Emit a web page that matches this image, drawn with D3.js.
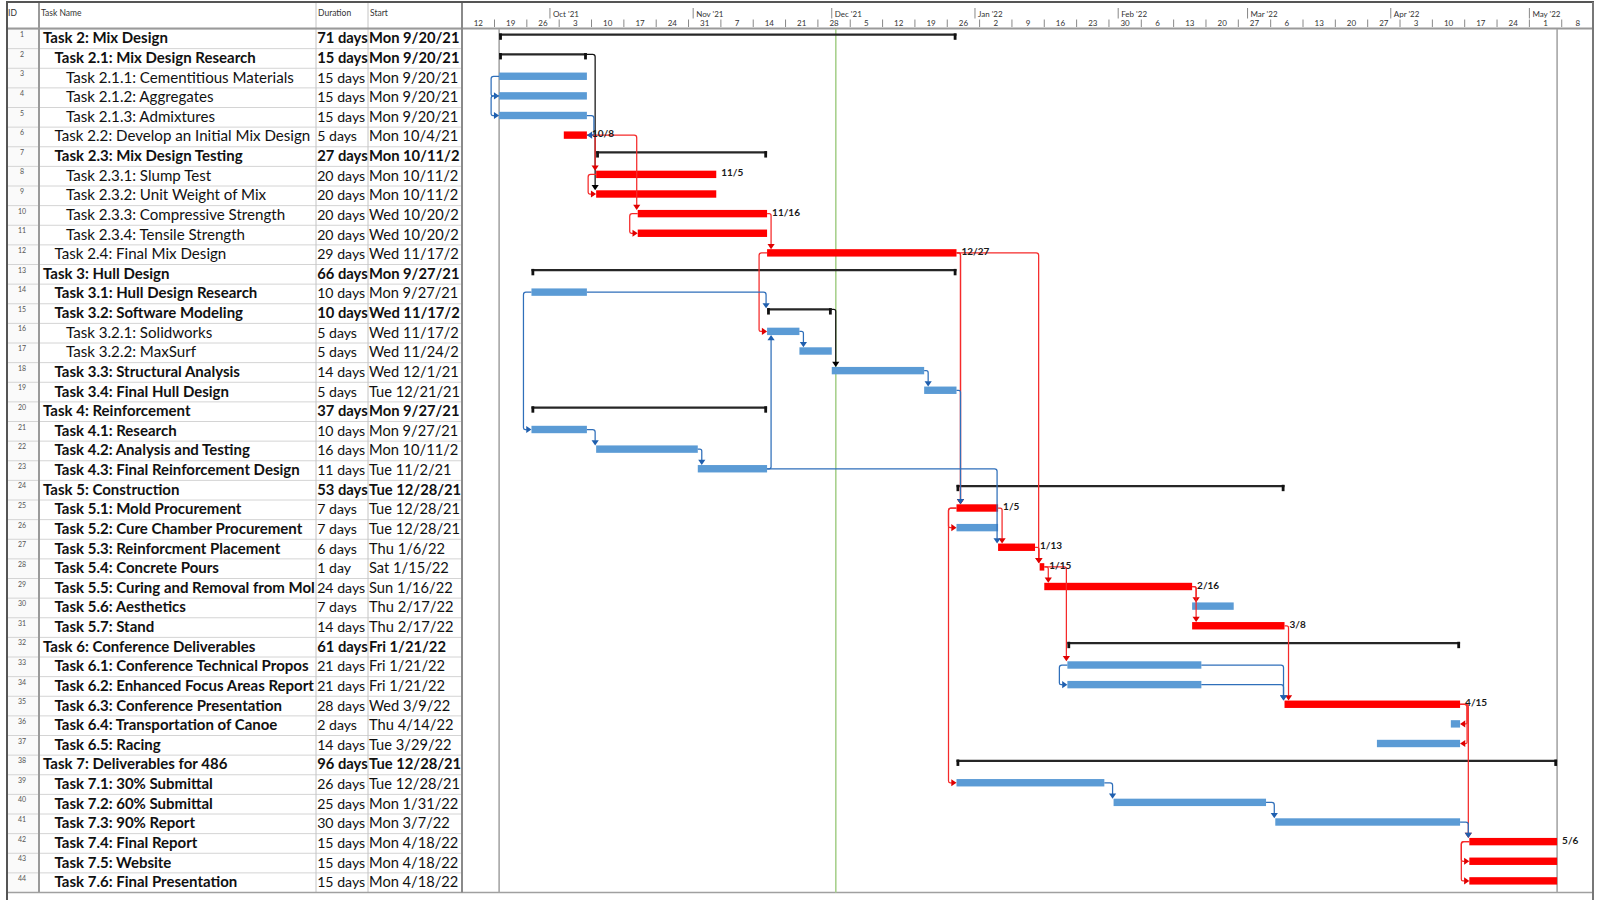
<!DOCTYPE html>
<html><head><meta charset="utf-8">
<script src="https://cdn.jsdelivr.net/npm/d3@7"></script>
<style>
body{margin:0;background:#fff;}
svg{display:block;font-family:Lato,'Open Sans',sans-serif;}
</style></head><body>
<svg id="chart" width="1600" height="900"></svg>
<script>
// ---------------- DATA ----------------
const taskNames = [
 "Task 2: Mix Design","Task 2.1: Mix Design Research","Task 2.1.1: Cementitious Materials","Task 2.1.2: Aggregates","Task 2.1.3: Admixtures",
 "Task 2.2: Develop an Initial Mix Design","Task 2.3: Mix Design Testing","Task 2.3.1: Slump Test","Task 2.3.2: Unit Weight of Mix","Task 2.3.3: Compressive Strength",
 "Task 2.3.4: Tensile Strength","Task 2.4: Final Mix Design","Task 3: Hull Design","Task 3.1: Hull Design Research","Task 3.2: Software Modeling",
 "Task 3.2.1: Solidworks","Task 3.2.2: MaxSurf","Task 3.3: Structural Analysis","Task 3.4: Final Hull Design","Task 4: Reinforcement",
 "Task 4.1: Research","Task 4.2: Analysis and Testing","Task 4.3: Final Reinforcement Design","Task 5: Construction","Task 5.1: Mold Procurement",
 "Task 5.2: Cure Chamber Procurement","Task 5.3: Reinforcment Placement","Task 5.4: Concrete Pours","Task 5.5: Curing and Removal from Mold","Task 5.6: Aesthetics",
 "Task 5.7: Stand","Task 6: Conference Deliverables","Task 6.1: Conference Technical Proposal","Task 6.2: Enhanced Focus Areas Report","Task 6.3: Conference Presentation",
 "Task 6.4: Transportation of Canoe","Task 6.5: Racing","Task 7: Deliverables for 486","Task 7.1: 30% Submittal","Task 7.2: 60% Submittal",
 "Task 7.3: 90% Report","Task 7.4: Final Report","Task 7.5: Website","Task 7.6: Final Presentation"];
const taskLevels = [0,1,2,2,2, 1,1,2,2,2, 2,1,0,1,1, 2,2,1,1,0, 1,1,1,0,1, 1,1,1,1,1, 1,0,1,1,1, 1,1,0,1,1, 1,1,1,1];
const durations = ["71 days","15 days","15 days","15 days","15 days","5 days","27 days","20 days","20 days","20 days",
 "20 days","29 days","66 days","10 days","10 days","5 days","5 days","14 days","5 days","37 days",
 "10 days","16 days","11 days","53 days","7 days","7 days","6 days","1 day","24 days","7 days",
 "14 days","61 days","21 days","21 days","28 days","2 days","14 days","96 days","26 days","25 days",
 "30 days","15 days","15 days","15 days"];
const startTexts = ["Mon 9/20/21","Mon 9/20/21","Mon 9/20/21","Mon 9/20/21","Mon 9/20/21","Mon 10/4/21","Mon 10/11/21","Mon 10/11/21","Mon 10/11/21","Wed 10/20/21",
 "Wed 10/20/21","Wed 11/17/21","Mon 9/27/21","Mon 9/27/21","Wed 11/17/21","Wed 11/17/21","Wed 11/24/21","Wed 12/1/21","Tue 12/21/21","Mon 9/27/21",
 "Mon 9/27/21","Mon 10/11/21","Tue 11/2/21","Tue 12/28/21","Tue 12/28/21","Tue 12/28/21","Thu 1/6/22","Sat 1/15/22","Sun 1/16/22","Thu 2/17/22",
 "Thu 2/17/22","Fri 1/21/22","Fri 1/21/22","Fri 1/21/22","Wed 3/9/22","Thu 4/14/22","Tue 3/29/22","Tue 12/28/21","Tue 12/28/21","Mon 1/31/22",
 "Mon 3/7/22","Mon 4/18/22","Mon 4/18/22","Mon 4/18/22"];
const barStarts = ["2021-09-20","2021-09-20","2021-09-20","2021-09-20","2021-09-20","2021-10-04","2021-10-11","2021-10-11","2021-10-11","2021-10-20",
 "2021-10-20","2021-11-17","2021-09-27","2021-09-27","2021-11-17","2021-11-17","2021-11-24","2021-12-01","2021-12-21","2021-09-27",
 "2021-09-27","2021-10-11","2021-11-02","2021-12-28","2021-12-28","2021-12-28","2022-01-06","2022-01-15","2022-01-16","2022-02-17",
 "2022-02-17","2022-01-21","2022-01-21","2022-01-21","2022-03-09","2022-04-14","2022-03-29","2021-12-28","2021-12-28","2022-01-31",
 "2022-03-07","2022-04-18","2022-04-18","2022-04-18"];
const barFinishes = ["2021-12-27","2021-10-08","2021-10-08","2021-10-08","2021-10-08","2021-10-08","2021-11-16","2021-11-05","2021-11-05","2021-11-16",
 "2021-11-16","2021-12-27","2021-12-27","2021-10-08","2021-11-30","2021-11-23","2021-11-30","2021-12-20","2021-12-27","2021-11-16",
 "2021-10-08","2021-11-01","2021-11-16","2022-03-08","2022-01-05","2022-01-05","2022-01-13","2022-01-15","2022-02-16","2022-02-25",
 "2022-03-08","2022-04-15","2022-02-18","2022-02-18","2022-04-15","2022-04-15","2022-04-15","2022-05-06","2022-01-28","2022-03-04",
 "2022-04-15","2022-05-06","2022-05-06","2022-05-06"];
// sum = summary, crit = critical task, norm = normal task
const taskKinds = ["sum","sum","norm","norm","norm","crit","sum","crit","crit","crit",
 "crit","crit","sum","norm","sum","norm","norm","norm","norm","sum",
 "norm","norm","norm","sum","crit","norm","crit","crit","crit","norm",
 "crit","sum","norm","norm","crit","norm","norm","sum","norm","norm",
 "norm","crit","crit","crit"];
const nameBold = [1,1,0,0,0,0,1,0,0,0, 0,0,1,1,1,0,0,1,1,1, 1,1,1,1,1,1,1,1,1,1, 1,1,1,1,1,1,1,1,1,1, 1,1,1,1];
const finishLabels = ["","","","","","10/8","","11/5","","11/16",
 "","12/27","","","","","","","","",
 "","","","","1/5","","1/13","1/15","2/16","",
 "3/8","","","","4/15","","","","","",
 "","5/6","",""];
// dependency links (task IDs, 1-based)
const linkFrom = [3,4,8,10,12,14,25,25,33,42,42, 5,35,35, 2,15, 12,6,6,10,12,12,25,27,28,28,29,29,31,35, 14,16,18,19,21,22,23,23,33,34,39,40,41];
const linkTo   = [4,5,9,11,16,21,26,39,34,43,44, 6,36,37, 9,18, 25,8,10,12,28,25,27,28,29,33,30,31,35,42, 15,17,19,25,22,23,16,27,35,35,40,41,42];
const linkType = ["SS","SS","SS","SS","SS","SS","SS","SS","SS","SS","SS","FF","FF","FF","FS","FS",
 "FS","FS","FS","FS","FS","FS","FS","FS","FS","FS","FS","FS","FS","FS",
 "FS","FS","FS","FS","FS","FS","FS","FS","FS","FS","FS","FS","FS"];
const linkKind = ["norm","norm","crit","crit","crit","norm","crit","crit","norm","crit","crit","norm","crit","crit","sum","sum",
 "crit","crit","crit","crit","crit","crit","crit","crit","crit","crit","crit","crit","crit","crit",
 "norm","norm","norm","norm","norm","norm","norm","norm","norm","norm","norm","norm","norm"];
const columnTitles = ["ID","Task Name","Duration","Start"];
const statusDate = "2021-12-01T21:00";

// ---------------- LAYOUT ----------------
const svg = d3.select("#chart");
const W = 1600, H = 900;
const L = 7, R = 1593, TOP = 2, HEAD = 29, ROWH = 19.625;
const colX = [7, 39, 316, 368, 462];
const N = taskNames.length;
const tableBottom = HEAD + N*ROWH;
const parse = d3.timeParse("%Y-%m-%d");
const x = d3.scaleTime().domain([new Date(2021,8,19), new Date(2022,4,1)]).range([494.5, 494.5 + 224*4.62]);
const rowTop = i => HEAD + i*ROWH;
const bStart = i => x(parse(barStarts[i]));
const bEnd = i => x(d3.timeDay.offset(parse(barFinishes[i]), 1));

const defs = svg.append("defs");
defs.append("clipPath").attr("id", "cTime").append("rect").attr("x", colX[4]+1).attr("y", 0).attr("width", R-1-colX[4]-1).attr("height", H);

svg.append("rect").attr("width", W).attr("height", H).attr("fill", "#fff");

// font sizing to match reference text widths
function measure(str, weight, size){
  const t = svg.append("text").attr("font-weight", weight).attr("font-size", size).text(str);
  const w = t.node().getComputedTextLength(); t.remove(); return w;
}
const boldSize = 20*125/measure("Task 2: Mix Design","bold",20);
const regSize = Math.min(20*233/measure("Task 2.1.1: Cementitious Materials","normal",20),
                         20*256/measure("Task 2.2: Develop an Initial Mix Design","normal",20));
const durRegSize = Math.min(regSize, 20*48/measure("15 days","normal",20));
const durBoldSize = Math.min(boldSize, 20*50.5/measure("71 days","bold",20));
const stRegSize = Math.min(regSize, 20*89.5/measure("Mon 9/20/21","normal",20));
const stBoldSize = Math.min(boldSize, 20*90.5/measure("Mon 9/20/21","bold",20));

// cut a text to the characters that fit in the given width (cell overflow)
function fitText(node, maxW){
  let s = node.textContent;
  while (s.length > 1 && node.getComputedTextLength() > maxW){ s = s.slice(0, -1); node.textContent = s; }
}

// ---------------- TABLE ----------------
const tbl = svg.append("g");
tbl.append("rect").attr("x", colX[0]).attr("y", HEAD).attr("width", colX[1]-colX[0]).attr("height", tableBottom-HEAD).attr("fill", "#fafafa");
tbl.selectAll("line.row").data(d3.range(N+1)).join("line")
  .attr("x1", colX[0]).attr("x2", colX[4]).attr("y1", i => rowTop(i)).attr("y2", i => rowTop(i))
  .attr("stroke", "#d4d4d4").attr("stroke-width", 1);
[[colX[1],"#9a9a9a",2],[colX[2],"#c4c4c4",1],[colX[3],"#c4c4c4",1]].forEach(([cx,c,w]) => {
  tbl.append("line").attr("x1", cx).attr("x2", cx).attr("y1", TOP).attr("y2", tableBottom).attr("stroke", c).attr("stroke-width", w);
});
const hx = [8, 41, 318, 370];
columnTitles.forEach((t,i) => tbl.append("text").attr("x", hx[i]).attr("y", 16).attr("font-size", 8.5).attr("fill", "#333").text(t));
tbl.selectAll("text.id").data(d3.range(N)).join("text")
  .attr("x", 22).attr("y", i => rowTop(i)+8).attr("text-anchor", "middle").attr("font-size", 7).attr("fill", "#555")
  .text(i => i+1);
const nameX = i => 43 + taskLevels[i]*11.5;
tbl.append("g").selectAll("text").data(d3.range(N)).join("text")
  .attr("x", nameX).attr("y", i => rowTop(i)+14.3)
  .attr("font-weight", i => nameBold[i] ? "bold" : "normal")
  .attr("font-size", i => nameBold[i] ? boldSize : regSize).attr("fill", "#111")
  .text(i => taskNames[i])
  .each(function(i){ fitText(this, colX[2] - nameX(i)); });
tbl.append("g").selectAll("text").data(d3.range(N)).join("text")
  .attr("x", colX[2]+1.2).attr("y", i => rowTop(i)+14.3)
  .attr("font-weight", i => taskKinds[i]==="sum" ? "bold" : "normal")
  .attr("font-size", i => taskKinds[i]==="sum" ? durBoldSize : durRegSize).attr("fill", "#111")
  .text(i => durations[i]);
tbl.append("g").selectAll("text").data(d3.range(N)).join("text")
  .attr("x", colX[3]+1).attr("y", i => rowTop(i)+14.3)
  .attr("font-weight", i => taskKinds[i]==="sum" ? "bold" : "normal")
  .attr("font-size", i => taskKinds[i]==="sum" ? stBoldSize : stRegSize).attr("fill", "#111")
  .text(i => startTexts[i])
  .each(function(){ fitText(this, colX[4] - 0.5 - (colX[3]+1)); });

// ---------------- TIMESCALE HEADER ----------------
const th = svg.append("g").attr("clip-path", "url(#cTime)");
const d0 = x.invert(colX[4]), d1 = x.invert(R);
const months = d3.timeMonth.range(d3.timeMonth.ceil(d0), d1);
th.selectAll("line.m").data(months).join("line")
  .attr("x1", d => x(d)).attr("x2", d => x(d)).attr("y1", 8).attr("y2", 18.5).attr("stroke", "#888").attr("stroke-width", 1);
th.selectAll("text.m").data(months).join("text")
  .attr("x", d => x(d)+3).attr("y", 16.5).attr("font-size", 8).attr("fill", "#333").text(d3.timeFormat("%b '%y"));
const weeks = d3.timeSunday.range(d3.timeSunday.floor(d0), d1);
th.selectAll("line.w").data(weeks).join("line")
  .attr("x1", d => x(d)).attr("x2", d => x(d)).attr("y1", 19.5).attr("y2", 27).attr("stroke", "#888").attr("stroke-width", 1);
th.selectAll("text.w").data(weeks).join("text")
  .attr("x", d => x(d3.timeHour.offset(d, 84))).attr("y", 26).attr("text-anchor", "middle")
  .attr("font-size", 8).attr("fill", "#333").text(d3.timeFormat("%-d"));

// ---------------- FRAME ----------------
svg.append("line").attr("x1", L).attr("x2", R).attr("y1", HEAD-0.5).attr("y2", HEAD-0.5).attr("stroke", "#9a9a9a").attr("stroke-width", 2);
svg.append("line").attr("x1", L).attr("x2", R).attr("y1", tableBottom).attr("y2", tableBottom).attr("stroke", "#a0a0a0").attr("stroke-width", 1.5);
svg.append("line").attr("x1", colX[4]).attr("x2", colX[4]).attr("y1", TOP).attr("y2", tableBottom).attr("stroke", "#8a8a8a").attr("stroke-width", 2);
svg.append("line").attr("x1", L-1).attr("x2", R+1).attr("y1", TOP).attr("y2", TOP).attr("stroke", "#555").attr("stroke-width", 2);
svg.append("line").attr("x1", L).attr("x2", L).attr("y1", TOP).attr("y2", H).attr("stroke", "#555").attr("stroke-width", 2);
svg.append("line").attr("x1", R).attr("x2", R).attr("y1", TOP).attr("y2", H).attr("stroke", "#777").attr("stroke-width", 2);

// ---------------- GANTT ----------------
const g = svg.append("g").attr("clip-path", "url(#cTime)");
const projStart = x(parse(barStarts[0]));
const projEnd = bEnd(37);
[[projStart,"#a6a6a6"],[projEnd,"#a6a6a6"],[x(new Date(statusDate)),"#a9d18e"]].forEach(([lx,c]) => {
  g.append("line").attr("x1", lx).attr("x2", lx).attr("y1", HEAD).attr("y2", tableBottom).attr("stroke", c).attr("stroke-width", 1.6);
});

const BAR_OFF = 4.3, BAR_H = 7.4, SUM_Y = 5.7;
const barColor = {crit:"#ff0000", norm:"#5b9bd5"};
const idx = d3.range(N);
g.selectAll("rect.bar").data(idx.filter(i => taskKinds[i] !== "sum")).join("rect")
  .attr("x", i => bStart(i)).attr("y", i => rowTop(i)+BAR_OFF)
  .attr("width", i => bEnd(i)-bStart(i)).attr("height", BAR_H)
  .attr("fill", i => barColor[taskKinds[i]]);
const sums = idx.filter(i => taskKinds[i] === "sum");
g.selectAll("line.sum").data(sums).join("line")
  .attr("x1", i => bStart(i)).attr("x2", i => bEnd(i))
  .attr("y1", i => rowTop(i)+SUM_Y).attr("y2", i => rowTop(i)+SUM_Y)
  .attr("stroke", "#262626").attr("stroke-width", 2.2);
g.selectAll("rect.sumS").data(sums).join("rect")
  .attr("x", i => bStart(i)).attr("y", i => rowTop(i)+4.4).attr("width", 2.8).attr("height", 6.4).attr("fill", "#111");
g.selectAll("rect.sumE").data(sums).join("rect")
  .attr("x", i => bEnd(i)-2.8).attr("y", i => rowTop(i)+4.4).attr("width", 2.8).attr("height", 6.4).attr("fill", "#111");

function roundPath(pts, r){
  let d = `M${pts[0][0]},${pts[0][1]}`;
  for (let k=1;k<pts.length-1;k++){
    const [x0,y0]=pts[k-1],[x1,y1]=pts[k],[x2,y2]=pts[k+1];
    const l1=Math.hypot(x1-x0,y1-y0), l2=Math.hypot(x2-x1,y2-y1);
    if (l1 < 0.01 || l2 < 0.01){ d += `L${x1},${y1}`; continue; }
    const rr=Math.min(r,l1/2,l2/2);
    const ax=x1+(x0-x1)/l1*rr, ay=y1+(y0-y1)/l1*rr;
    const bx=x1+(x2-x1)/l2*rr, by=y1+(y2-y1)/l2*rr;
    d += `L${ax},${ay}Q${x1},${y1} ${bx},${by}`;
  }
  const p = pts[pts.length-1];
  return d + `L${p[0]},${p[1]}`;
}
const linkStroke = {crit:"#f52a2a", norm:"#2f6fba", sum:"#111"};
const arrowFill = {crit:"#e00000", norm:"#1f5fae", sum:"#000"};
const yLink = i => rowTop(i) + (taskKinds[i]==="sum" ? SUM_Y : 8);
const yTopOf = i => rowTop(i) + (taskKinds[i]==="sum" ? 4.6 : BAR_OFF);
const yBotOf = i => rowTop(i) + (taskKinds[i]==="sum" ? 7 : BAR_OFF+BAR_H);
const AW = 3.6, AL = 5.2;
const linkG = g.append("g");
const order = ["sum","crit","norm"];
const linkIdx = d3.range(linkFrom.length).sort((a,b) => order.indexOf(linkKind[a]) - order.indexOf(linkKind[b]));
linkIdx.forEach(k => {
  const p = linkFrom[k]-1, s = linkTo[k]-1, kind = linkKind[k];
  let pts, arrow;
  const yp = yLink(p), ys = yLink(s);
  if (linkType[k] === "FS"){
    const xe = bEnd(p), xs = bStart(s);
    const xv = Math.max(xs - 1, xe + 4);
    if (s > p){
      const yt = yTopOf(s);
      pts = [[xe,yp],[xv,yp],[xv,yt-AL+0.5]];
      arrow = [[xv,yt],[xv-AW,yt-AL],[xv+AW,yt-AL]];
    } else {
      const yb = yBotOf(s);
      pts = [[xe,yp],[xv,yp],[xv,yb+AL-0.5]];
      arrow = [[xv,yb],[xv-AW,yb+AL],[xv+AW,yb+AL]];
    }
  } else if (linkType[k] === "SS"){
    const xp = bStart(p), xs = bStart(s);
    const xv = Math.min(xp, xs) - 8;
    pts = [[xp,yp],[xv,yp],[xv,ys],[xs-AL+0.5,ys]];
    arrow = [[xs,ys],[xs-AL,ys-AW],[xs-AL,ys+AW]];
  } else {
    const xe = bEnd(p), xf = bEnd(s);
    const xv = Math.max(xe, xf) + 7;
    pts = [[xe,yp],[xv,yp],[xv,ys],[xf+AL-0.5,ys]];
    arrow = [[xf,ys],[xf+AL,ys-AW],[xf+AL,ys+AW]];
  }
  linkG.append("path").attr("d", roundPath(pts, 2.5)).attr("fill", "none")
    .attr("stroke", linkStroke[kind]).attr("stroke-width", 1.25);
  linkG.append("path").attr("d", "M" + arrow.map(a => a.join(",")).join("L") + "Z").attr("fill", arrowFill[kind]);
});

g.selectAll("text.lab").data(idx.filter(i => finishLabels[i])).join("text")
  .attr("x", i => bEnd(i)+5).attr("y", i => rowTop(i)+10)
  .attr("font-size", 10).attr("font-weight", "bold").attr("fill", "#1a1a1a")
  .text(i => finishLabels[i]);
</script>
</body></html>
